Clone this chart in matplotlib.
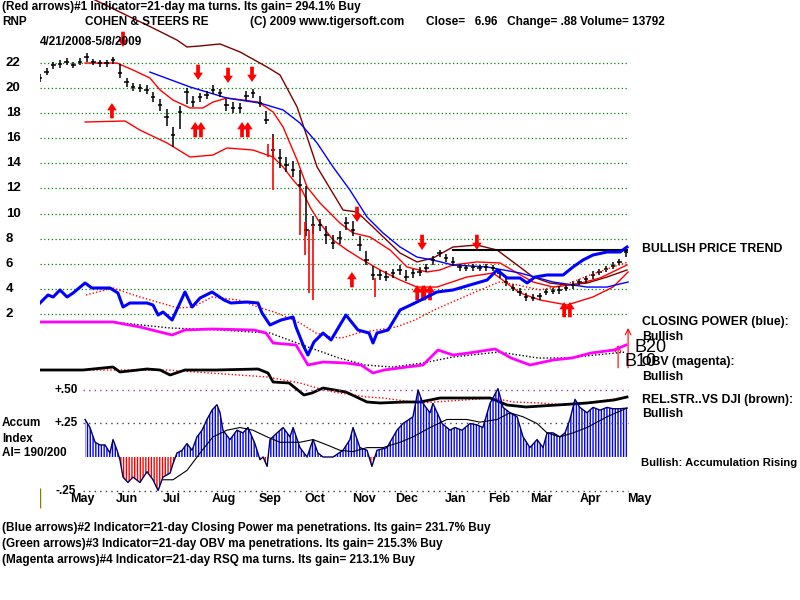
import numpy as np
import matplotlib.pyplot as plt

# ---- data (x = trading day since 4/21/2008) ----
bar_days = np.arange(0, 265, 3)
bar_close = [20.80, 21.27, 21.83, 21.91, 22.07, 21.83, 22.07, 22.47, 22.07, 21.99,
             21.99, 22.23, 21.20, 20.48, 20.08, 20.00, 19.84, 19.28, 18.65, 17.69,
             16.25, 18.09, 19.68, 18.88, 19.28, 19.44, 19.84, 19.60, 18.65, 18.41,
             18.41, 19.36, 19.60, 18.80, 17.45, 15.06, 14.42, 13.86, 13.47, 12.27,
             8.69, 9.08, 9.08, 8.29, 7.65, 8.05, 9.24, 8.69, 7.49, 6.29,
             5.10, 5.10, 4.94, 5.26, 5.50, 4.94, 5.26, 5.34, 5.66, 6.29,
             6.85, 6.45, 6.14, 5.74, 5.66, 5.74, 5.66, 5.74, 5.66, 5.26,
             4.54, 4.06, 3.75, 3.35, 3.27, 3.43, 3.75, 3.82, 3.90, 4.06,
             4.30, 4.54, 4.78, 5.10, 5.34, 5.58, 5.82, 6.14, 6.96]
bar_high = [21.1, 21.6, 22.1, 22.2, 22.4, 22.1, 22.4, 22.8, 22.3, 22.2,
            22.2, 22.5, 21.9, 20.8, 20.4, 20.3, 20.2, 19.7, 19.1, 18.3,
            16.9, 18.6, 20.0, 19.4, 19.6, 19.8, 20.2, 19.9, 19.1, 18.9,
            18.8, 19.8, 19.9, 19.4, 18.2, 16.3, 15.1, 14.5, 14.2, 13.5,
            12.2, 9.8, 9.6, 9.0, 8.3, 8.6, 9.7, 9.4, 8.2, 7.0,
            5.8, 5.5, 5.4, 5.6, 5.9, 5.5, 5.6, 5.7, 6.0, 6.6,
            7.1, 6.8, 6.5, 6.0, 5.9, 6.0, 5.9, 6.0, 5.9, 5.6,
            5.0, 4.4, 4.1, 3.7, 3.6, 3.7, 4.0, 4.1, 4.2, 4.3,
            4.6, 4.8, 5.0, 5.4, 5.6, 5.8, 6.1, 6.4, 7.1]
bar_low = [20.5, 21.0, 21.5, 21.6, 21.8, 21.6, 21.8, 22.1, 21.8, 21.7,
           21.7, 21.9, 20.8, 20.1, 19.8, 19.7, 19.5, 18.9, 18.2, 17.0,
           15.3, 16.7, 18.7, 18.5, 18.9, 19.1, 19.5, 19.3, 18.2, 18.0,
           18.0, 19.0, 19.2, 18.5, 17.1, 14.5, 13.6, 13.3, 12.9, 11.8,
           8.2, 8.4, 8.6, 7.6, 7.2, 7.6, 8.7, 8.2, 7.0, 5.9,
           4.7, 4.7, 4.6, 4.9, 5.1, 4.6, 4.9, 5.0, 5.3, 5.9,
           6.5, 6.1, 5.8, 5.4, 5.4, 5.4, 5.4, 5.4, 5.4, 4.9,
           4.2, 3.8, 3.4, 3.0, 3.0, 3.1, 3.5, 3.6, 3.6, 3.8,
           4.0, 4.3, 4.5, 4.8, 5.1, 5.3, 5.6, 5.9, 6.5]

# red high-volume bars
red_days = [102.7, 105.0, 117.1, 119.4, 121.2, 123.0, 150.9]
red_high = [15.5, 16.1, 12.1, 9.3, 8.7, 9.1, 4.9]
red_low = [14.5, 11.9, 8.3, 6.7, 3.7, 3.1, 3.35]

upper_days = [20.3, 24.8, 51.8, 61.7, 66.2, 72.1, 81.1, 90.1, 102.3, 108.1, 115.8,
              120.3, 124.8, 136.5, 142.8, 150.0, 162.2, 169.8, 177.0, 186.0, 196.8,
              205.9, 214.9, 222.1, 229.7, 237.4, 246.4, 255.4, 264.4]
upper_band = [27.41, 27.01, 24.70, 23.82, 23.27, 23.35, 23.51, 22.87, 21.67, 21.04, 18.49,
              16.10, 13.71, 10.28, 10.12, 8.92, 6.85, 6.14, 6.45, 7.33, 7.49,
              7.09, 5.90, 4.94, 4.46, 4.30, 4.46, 4.94, 5.50]

ma21_days = [20.3, 34.7, 41.9, 49.5, 54.1, 59.9, 67.6, 73.4, 77.9, 84.2, 91.4, 98.2,
             105.0, 109.5, 115.8, 120.3, 126.1, 135.1, 141.0, 148.6, 157.7, 165.3,
             174.3, 180.2, 186.0, 196.8, 207.2, 214.9, 222.1, 231.1, 241.9, 252.3, 264.4]
ma21 = [21.99, 21.99, 21.43, 20.80, 19.84, 19.04, 18.41, 18.41, 18.88, 19.20, 19.04, 18.88,
        18.09, 16.89, 14.26, 12.11, 10.84, 9.24, 8.45, 8.13, 7.09, 5.74,
        5.34, 5.50, 5.90, 6.14, 6.06, 5.26, 4.54, 4.14, 4.38, 4.86, 5.90]

lower_days = [20.3, 38.3, 45.0, 57.2, 67.6, 77.9, 84.2, 95.9, 105.0, 109.5, 114.0, 118.0,
              121.6, 126.1, 132.0, 138.3, 145.5, 153.2, 162.2, 169.8, 178.8, 192.3,
              204.1, 216.2, 225.2, 237.4, 249.1, 258.1, 264.9]
lower_band = [17.29, 17.37, 16.65, 15.62, 14.50, 14.66, 15.22, 15.06, 14.50, 13.71, 12.67, 11.87,
              10.52, 9.24, 7.89, 7.09, 6.29, 5.50, 4.70, 4.14, 4.14, 4.94,
              5.26, 3.67, 3.11, 2.71, 3.35, 4.14, 5.34]

ma50_days = [49.5, 67.6, 84.2, 99.1, 109.5, 117.1, 124.8, 132.0, 139.6, 147.3, 154.5,
             162.2, 169.8, 177.0, 186.0, 201.4, 216.2, 231.1, 246.4, 255.4, 264.9]
ma50 = [21.27, 20.08, 19.20, 18.80, 18.25, 17.21, 15.62, 13.71, 11.87, 9.72, 8.45,
        7.33, 6.53, 6.29, 5.90, 5.74, 5.26, 4.54, 4.14, 4.14, 4.54]

resist_level = 7.09
resist_days = [185.6, 265.0]

sell_days = [37.4, 71.2, 84.7, 95.5, 142.8, 172.1, 196.8]
sell_tips = [23.27, 20.64, 20.40, 20.48, 9.32, 7.09, 7.09]
buy_days = [32.4, 71.2, 92.3, 140.5, 171.2, 174.4, 237.4]
buy_tips = [18.80, 17.29, 17.29, 5.34, 4.30, 4.30, 2.95]
buy_double = [False, True, True, False, True, True, True]

cp_days = [0, 3.6, 5.9, 9.0, 12.2, 14.9, 20.3, 23.4, 31.5, 35.1, 37.4, 40.5, 48.2, 50.9,
           53.2, 55.4, 59.5, 62.2, 65.3, 68.5, 72.1, 77.5, 82.9, 86.0, 93.2, 98.2, 100.0,
           103.6, 108.6, 114.0, 115.3, 118.9, 120.7, 123.4, 127.5, 131.1, 137.8, 143.2,
           148.2, 150.0, 151.8, 156.8, 162.2, 168.9, 178.8, 186.0, 193.7, 201.4, 205.9,
           210.4, 216.2, 219.4, 223.0, 228.4, 235.6, 240.1, 244.6, 249.1, 255.4, 261.3, 264.4]
cp = [57, 65, 63, 70, 63, 67, 77, 72, 72, 67, 53, 57, 57, 55,
      45, 48, 40, 53, 68, 53, 62, 68, 60, 57, 58, 57, 47,
      35, 40, 43, 33, 13, 5, 18, 27, 20, 45, 30,
      27, 17, 27, 30, 50, 57, 68, 70, 75, 80, 90,
      82, 82, 77, 83, 85, 85, 93, 100, 105, 108, 108, 113]
cp_ma_days = [20.7, 32.9, 45.0, 62.2, 68.9, 77.5, 89.6, 98.2, 106.8, 117.1, 124.3, 131.1,
              136.0, 143.2, 151.8, 160.4, 168.9, 177.5, 187.8, 198.2, 206.8, 215.3,
              225.2, 236.5, 247.7, 256.8, 264.9]
cp_ma = [65, 72, 63, 52, 53, 63, 60, 53, 47, 37, 27, 23,
         22, 27, 30, 33, 40, 50, 60, 70, 78, 75,
         70, 75, 85, 92, 98]

obv_days = [0, 20.7, 32.9, 45.0, 59.5, 65.3, 77.5, 96.4, 101.8, 105.0, 115.3, 120.7,
            127.5, 137.8, 144.6, 150.0, 155.0, 165.3, 172.5, 179.3, 186.0, 193.2,
            205.0, 212.2, 220.7, 231.1, 239.6, 248.2, 258.6, 264.0]
obv = [58, 58, 58, 53, 45, 50, 51, 50, 47, 37, 35, 15,
       18, 17, 15, 7, 10, 13, 15, 30, 25, 27,
       31, 22, 15, 20, 22, 27, 30, 35]
obv_ma_days = [32.9, 58.6, 81.1, 103.6, 120.7, 134.7, 146.4, 158.6, 172.5, 186.0,
               206.8, 224.3, 237.8, 250.0, 264.0]
obv_ma = [58, 52, 50, 47, 33, 22, 15, 13, 17, 23, 28, 22, 22, 25, 28]

rs_days = [0, 19.4, 32.9, 36.0, 48.2, 54.1, 58.6, 65.3, 79.3, 98.2, 102.7, 105.0,
           112.2, 118.9, 122.5, 127.5, 137.8, 147.3, 153.2, 164.0, 171.2, 180.2,
           202.7, 210.4, 218.9, 232.9, 246.4, 258.6, 264.4]
rs = [50, 50, 53, 48, 51, 50, 45, 50, 50, 51, 47, 38,
      37, 25, 27, 32, 28, 18, 17, 18, 18, 22,
      22, 15, 13, 15, 17, 20, 23]
rs_ma_days = [20.7, 57.2, 102.3, 117.1, 124.8, 132.0, 147.3, 154.5, 171.2, 204.1,
              213.1, 225.2, 237.4, 249.1, 264.4]
rs_ma = [50, 50, 43, 37, 32, 28, 23, 22, 17, 22, 18, 17, 15, 18, 23]

ai_days = [20.3, 22.5, 24.8, 27.0, 29.3, 31.5, 32.9, 34.7, 36.0, 37.4, 39.6, 41.9, 45.0,
           48.2, 50.9, 53.2, 55.4, 58.6, 59.9, 61.7, 64.0, 66.2, 68.5, 70.7, 73.0, 75.2,
           77.5, 79.7, 81.1, 82.4, 85.6, 88.7, 91.4, 93.7, 96.8, 99.1, 100.5, 102.3, 103.6,
           106.8, 109.5, 112.6, 114.0, 117.1, 120.3, 123.0, 125.2, 127.5, 132.0, 136.5,
           139.6, 141.0, 144.1, 147.3, 149.5, 151.8, 156.3, 160.8, 163.5, 168.0, 170.3,
           172.5, 175.7, 177.0, 181.1, 184.7, 186.9, 190.1, 193.7, 196.8, 199.5, 202.7,
           206.3, 208.6, 211.7, 214.9, 217.6, 220.7, 223.9, 226.6, 228.4, 231.1, 234.2,
           236.5, 238.7, 241.0, 243.2, 246.4, 249.1, 252.3, 255.4, 258.1, 261.3, 264.4]
ai = [0.28, 0.22, 0.11, 0.09, 0.09, 0.03, 0.13, 0.05, -0.02, -0.15, -0.19, -0.15, -0.19,
      -0.11, -0.17, -0.25, -0.15, -0.12, -0.05, 0.03, 0.05, 0.10, 0.05, 0.15, 0.20, 0.28,
      0.35, 0.39, 0.33, 0.20, 0.13, 0.20, 0.18, 0.22, 0.10, -0.02, 0.0, -0.07, 0.13,
      0.18, 0.22, 0.15, 0.22, 0.07, 0.0, 0.13, 0.03, 0.0, 0.0, 0.05,
      0.13, 0.22, 0.07, 0.05, -0.07, 0.05, 0.07, 0.20, 0.25, 0.30, 0.50,
      0.40, 0.33, 0.40, 0.25, 0.20, 0.22, 0.20, 0.25, 0.24, 0.22, 0.40,
      0.51, 0.37, 0.33, 0.30, 0.15, 0.07, 0.13, 0.07, 0.18, 0.18, 0.15,
      0.18, 0.28, 0.43, 0.37, 0.33, 0.37, 0.35, 0.37, 0.36, 0.36, 0.365]
ai_ma_days = [55.4, 59.9, 66.2, 72.1, 77.9, 84.2, 90.1, 95.9, 102.3, 108.1, 117.1, 123.0,
              129.3, 135.1, 141.0, 147.3, 154.5, 162.2, 168.0, 175.7, 183.3, 192.3, 198.2,
              205.9, 211.7, 217.6, 223.9, 228.4, 234.2, 240.1, 246.4, 255.4, 264.4]
ai_ma = [-0.17, -0.17, -0.10, 0.03, 0.15, 0.20, 0.22, 0.20, 0.15, 0.11, 0.11, 0.13,
         0.09, 0.05, 0.04, 0.07, 0.07, 0.11, 0.15, 0.22, 0.28, 0.28, 0.26,
         0.28, 0.33, 0.30, 0.25, 0.18, 0.15, 0.18, 0.22, 0.30, 0.365]

price_ticks = [2, 4, 6, 8, 10, 12, 14, 16, 18, 20, 22]
month_labels = ['May', 'Jun', 'Jul', 'Aug', 'Sep', 'Oct', 'Nov', 'Dec',
                'Jan', 'Feb', 'Mar', 'Apr', 'May']
month_pos = [19, 39, 59.5, 83, 103.6, 124, 146, 165, 187, 207, 226, 248, 270]

# ---- figure ----
plt.rcParams['font.family'] = ['Liberation Sans', 'DejaVu Sans']
plt.rcParams['hatch.linewidth'] = 1.0
W, H = 800, 600
fig = plt.figure(figsize=(8, 6), dpi=100)
rect = [40 / W, (H - 510) / H, 620 / W, 510 / H]
XMAX = 620 / 2.22

ax = fig.add_axes(rect)
ax.set_xlim(0, XMAX)
ax.set_ylim(-13.625, 27.012)
ax.axis('off')


def overlay(lo, hi):
    a = fig.add_axes(rect, sharex=ax)
    a.set_ylim(lo, hi)
    a.axis('off')
    a.patch.set_alpha(0)
    return a


ax_cp = overlay(-150, 360)
ax_obv = overlay(-130, 380)
ax_rs = overlay(-90, 420)
ax_ai = overlay(-0.3955, 3.41)

# price grid + labels
ax.hlines(price_ticks, 0, 265, colors='#008000', linestyles=(0, (1, 2)), lw=0.9)
for p in price_ticks:
    ax.text(-34 / 620, p, str(p), transform=ax.get_yaxis_transform(), ha='left',
            va='center', fontsize=9.5, fontweight='bold')

# bands and moving averages
ax.plot(upper_days, upper_band, color='#800000', lw=1)
ax.plot(lower_days, lower_band, color='red', lw=1)
ax.plot(ma21_days, ma21, color='red', lw=1)
ax.plot(ma50_days, ma50, color='blue', lw=1)
ax.hlines(resist_level, resist_days[0], resist_days[1], color='black', lw=1.5)

# price bars
ax.vlines(bar_days, bar_low, bar_high, color='black', lw=1.1)
ax.hlines(bar_close, bar_days, bar_days + 1.0, color='black', lw=1.1)
ax.hlines(bar_close, bar_days - 1.0, bar_days, color='black', lw=1.1)
ax.vlines(red_days, red_low, red_high, color='red', lw=1.2)

# signal arrows
astyle = dict(arrowstyle='simple,head_width=1.0,head_length=0.75,tail_width=0.38',
              color='red', lw=0, mutation_scale=7, shrinkA=0, shrinkB=0)
for d, p in zip(sell_days, sell_tips):
    ax.annotate('', xy=(d, p), xytext=(0, 11), textcoords='offset points',
                arrowprops=astyle)
for d, p, dbl in zip(buy_days, buy_tips, buy_double):
    xs = [d - 1.3, d + 1.3] if dbl else [d]
    for x in xs:
        ax.annotate('', xy=(x, p), xytext=(0, -11), textcoords='offset points',
                    arrowprops=astyle)

# closing power, OBV, relative strength
ax_cp.plot(cp_ma_days, cp_ma, color='red', lw=1, ls=(0, (1, 1.5)))
ax_cp.plot(cp_days, cp, color='blue', lw=2.2)
ax_obv.plot(obv_ma_days, obv_ma, color='black', lw=1, ls=(0, (1, 1.5)))
ax_obv.plot(obv_days, obv, color='magenta', lw=2)
ax_rs.plot(rs_ma_days, rs_ma, color='red', lw=1, ls=(0, (1, 1.5)))
ax_rs.plot(rs_days, rs, color='black', lw=2)

# thin red arrows at the end (B20 / B10)
for d, top in [(260.4, -0.48), (264.9, 0.88)]:
    ax.annotate('', xy=(d, top), xytext=(d, -2.3),
                arrowprops=dict(arrowstyle='->', color='red', lw=0.8,
                                shrinkA=0, shrinkB=0))

# accumulation index
ai_levels = [0.5, 0.25, -0.25]
ax_ai.hlines(ai_levels[0], 19.4, 265, colors='#a040a0', linestyles=(0, (1, 3)), lw=1)
ax_ai.hlines(ai_levels[1:], 19.4, 265, colors='#404040', linestyles=(0, (1, 3)), lw=1)
ai_arr = np.array(ai)
ax_ai.fill_between(ai_days, 0, ai_arr, where=ai_arr >= 0, interpolate=True,
                   facecolor='none', edgecolor='blue', hatch='||||||', lw=0)
ax_ai.fill_between(ai_days, 0, ai_arr, where=ai_arr <= 0, interpolate=True,
                   facecolor='none', edgecolor='red', hatch='||||||', lw=0)
ax_ai.plot(ai_days, ai, color='#000060', lw=1)
ax_ai.plot(ai_ma_days, ai_ma, color='black', lw=0.8)
ax_ai.vlines(0, -0.381, -0.231, color='#808000', lw=1)
for lv, s in zip(ai_levels, ['+.50', '+.25', '-.25']):
    ax_ai.text(26 / 620, lv, s, transform=ax_ai.get_yaxis_transform(), ha='center',
               va='center', fontsize=8.5, fontweight='bold')

for m, x in zip(month_labels, month_pos):
    ax.text(x, 11 / 510, m, transform=ax.get_xaxis_transform(), ha='center',
            va='center', fontsize=9, fontweight='bold')


def ftxt(x, y, s, **kw):
    kw.setdefault('fontsize', 8.5)
    kw.setdefault('fontweight', 'bold')
    fig.text(x / W, 1 - y / H, s, va='center', ha='left', **kw)


ftxt(2, 7, '(Red arrows)#1 Indicator=21-day ma turns. Its gain= 294.1% Buy')
ftxt(2, 22, 'RNP')
ftxt(85, 22, 'COHEN & STEERS RE')
ftxt(250, 22, '(C) 2009 www.tigersoft.com')
ftxt(426, 22, 'Close=   6.96   Change= .88 Volume= 13792')
ftxt(40, 42, '4/21/2008-5/8/2009')

ftxt(642, 249, 'BULLISH PRICE TREND', fontsize=8.8)
ftxt(642, 322, 'CLOSING POWER (blue):', fontsize=8.8)
ftxt(642, 337, 'Bullish', fontsize=8.8)
ftxt(642, 362, 'OBV (magenta):', fontsize=8.8)
ftxt(642, 377, 'Bullish', fontsize=8.8)
ftxt(642, 400, 'REL.STR..VS DJI (brown):', fontsize=8.8)
ftxt(642, 414, 'Bullish', fontsize=8.8)
ftxt(641, 463, 'Bullish: Accumulation Rising', fontsize=8.1)
ftxt(634, 347, 'B20', fontsize=13, fontweight='normal')
ftxt(625, 361, 'B10', fontsize=13, fontweight='normal')

ftxt(2, 423, 'Accum')
ftxt(2, 439, 'Index')
ftxt(2, 453, 'AI= 190/200')

ftxt(2, 528, '(Blue arrows)#2 Indicator=21-day Closing Power ma penetrations. Its gain= 231.7% Buy')
ftxt(2, 544, '(Green arrows)#3 Indicator=21-day OBV ma penetrations. Its gain= 215.3% Buy')
ftxt(2, 560, '(Magenta arrows)#4 Indicator=21-day RSQ ma turns. Its gain= 213.1% Buy')

fig.savefig('out.png', dpi=100)
